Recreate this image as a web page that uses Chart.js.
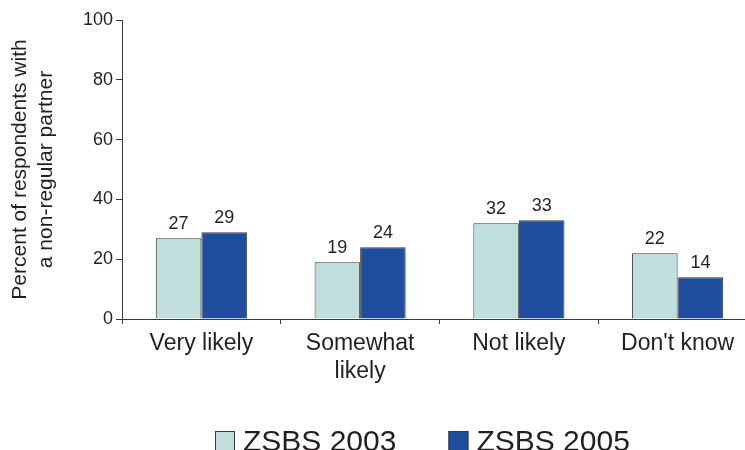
<!DOCTYPE html>
<html>
<head>
<meta charset="utf-8">
<script src="https://cdn.jsdelivr.net/npm/chart.js@4/dist/chart.umd.min.js"></script>
<style>
html,body{margin:0;padding:0;background:#fff;overflow:hidden;}
#wrap{width:745px;height:450px;overflow:hidden;position:relative;}
canvas{display:block;}
</style>
</head>
<body>
<div id="wrap"><canvas id="c" width="758" height="456"></canvas></div>
<script>
const categories = [["Very likely"], ["Somewhat", "likely"], ["Not likely"], ["Don't know"]];
const seriesNames = ["ZSBS 2003", "ZSBS 2005"];
const values2003 = [27, 19, 32, 22];
const values2005 = [29, 24, 33, 14];
const yTicks = [0, 20, 40, 60, 80, 100];
const yTitle = ["Percent of respondents with", "a non-regular partner"];

const LIGHT = '#c0dfdc';
const DARK = '#1f4e9e';
const BORDER = '#3a3a3a';
const TEXT = '#231f20';
const FONT = "'Liberation Sans', Arial, sans-serif";

const valueLabels = {
  id: 'valueLabels',
  afterDatasetsDraw(chart) {
    const ctx = chart.ctx;
    ctx.save();
    ctx.font = '18px ' + FONT;
    ctx.fillStyle = TEXT;
    ctx.textAlign = 'center';
    ctx.textBaseline = 'alphabetic';
    chart.data.datasets.forEach((ds, i) => {
      chart.getDatasetMeta(i).data.forEach((bar, j) => {
        ctx.fillText(String(ds.data[j]), bar.x, bar.y - 9);
      });
    });
    ctx.restore();
  }
};

const bottomLegend = {
  id: 'bottomLegend',
  afterDraw(chart) {
    const ctx = chart.ctx;
    ctx.save();
    ctx.font = '30px ' + FONT;
    ctx.textBaseline = 'alphabetic';
    ctx.textAlign = 'left';
    let x = 215;
    const baseline = 451;
    const box = 20;
    chart.data.datasets.forEach((ds) => {
      ctx.fillStyle = ds.backgroundColor;
      ctx.fillRect(x, baseline - 20, box, box);
      ctx.strokeStyle = BORDER;
      ctx.lineWidth = 1;
      ctx.strokeRect(x + 0.5, baseline - 20 + 0.5, box - 1, box - 1);
      ctx.fillStyle = TEXT;
      const tx = x + box + 8;
      ctx.fillText(ds.label, tx, baseline);
      x = tx + ctx.measureText(ds.label).width + 52;
    });
    ctx.restore();
  }
};

new Chart(document.getElementById('c'), {
  type: 'bar',
  data: {
    labels: categories,
    datasets: [
      { label: seriesNames[0], data: values2003, backgroundColor: LIGHT, borderColor: BORDER, borderWidth: 1, borderSkipped: 'bottom' },
      { label: seriesNames[1], data: values2005, backgroundColor: DARK, borderColor: BORDER, borderWidth: 1, borderSkipped: 'bottom' }
    ]
  },
  options: {
    responsive: false,
    devicePixelRatio: 1,
    animation: false,
    layout: { padding: { top: 20, right: 1, bottom: 0, left: 0 } },
    plugins: { legend: { display: false }, tooltip: { enabled: false } },
    datasets: { bar: { categoryPercentage: 0.574, barPercentage: 1.0 } },
    scales: {
      x: {
        offset: true,
        grid: { offset: true, drawOnChartArea: false, drawTicks: true, tickLength: 5, color: BORDER, lineWidth: 1 },
        border: { color: BORDER, width: 1 },
        ticks: { color: TEXT, font: { family: FONT, size: 23 }, padding: 6, maxRotation: 0, autoSkip: false },
        afterFit(scale) { scale.height = 137; }
      },
      y: {
        min: 0, max: 100,
        afterBuildTicks(scale) { scale.ticks = yTicks.map(v => ({ value: v })); },
        grid: { drawOnChartArea: false, drawTicks: true, tickLength: 6, color: BORDER, lineWidth: 1 },
        border: { color: BORDER, width: 1 },
        ticks: { color: TEXT, font: { family: FONT, size: 18 }, padding: 3 },
        title: { display: true, text: yTitle, color: TEXT, font: { family: FONT, size: 21, lineHeight: 1.25 }, padding: { top: 7, bottom: 0 } },
        afterFit(scale) { scale.width = 122; }
      }
    }
  },
  plugins: [valueLabels, bottomLegend]
});
</script>
</body>
</html>
